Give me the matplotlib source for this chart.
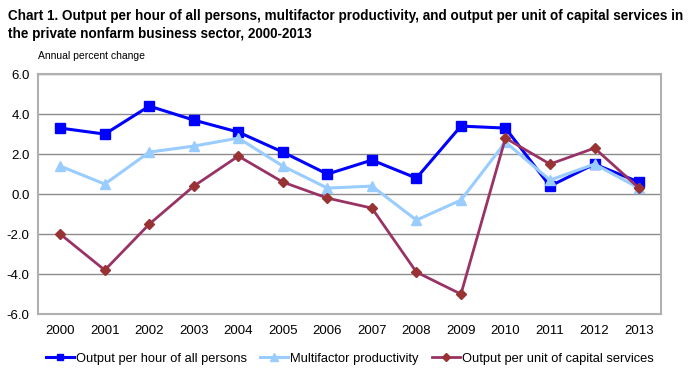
import numpy as np
from matplotlib import pyplot as plt

plt.rcParams['font.family'] = ['Liberation Sans', 'DejaVu Sans']

# dados
anos = ['2000', '2001', '2002', '2003', '2004', '2005', '2006',
        '2007', '2008', '2009', '2010', '2011', '2012', '2013']
prod_hora = [3.3, 3.0, 4.4, 3.7, 3.1, 2.1, 1.0, 1.7, 0.8, 3.4, 3.3, 0.4, 1.5, 0.6]
multifator = [1.4, 0.5, 2.1, 2.4, 2.8, 1.4, 0.3, 0.4, -1.3, -0.3, 2.6, 0.7, 1.5, 0.3]
capital = [-2.0, -3.8, -1.5, 0.4, 1.9, 0.6, -0.2, -0.7, -3.9, -5.0, 2.8, 1.5, 2.3, 0.3]

fig = plt.figure(figsize=(6.91, 3.78), dpi=100)
ax = fig.add_axes([0.055, 0.169, 0.902, 0.635])

x = np.arange(len(anos))
ax.plot(x, prod_hora, color='#0000ff', lw=2.2, marker='s', ms=6.5,
        label='Output per hour of all persons', zorder=3)
ax.plot(x, multifator, color='#99ccff', lw=2.2, marker='^', ms=7,
        label='Multifactor productivity', zorder=4)
ax.plot(x, capital, color='#993366', lw=2.0, marker='D', ms=5,
        mfc='#993333', mec='#993333', label='Output per unit of capital services', zorder=5)

ax.set_xlim(-0.5, 13.5)
ax.set_ylim(-6, 6)
ax.set_yticks(np.arange(-6, 6.1, 2))
ax.set_yticklabels(['%.1f' % v for v in np.arange(-6, 6.1, 2)])
ax.set_xticks(x)
ax.set_xticklabels(anos)
ax.tick_params(length=0, labelsize=9.5, colors='black')
ax.tick_params(axis='x', pad=8)
ax.tick_params(axis='y', pad=6)
ax.grid(axis='y', color='#8c8c8c', lw=1)
for s in ax.spines.values():
    s.set_color('#b0b0b0')
    s.set_linewidth(1.5)

fig.text(0.012, 0.975, 'Chart 1. Output per hour of all persons, multifactor productivity, and output per unit of capital services in\nthe private nonfarm business sector, 2000-2013',
         fontsize=9.75, fontweight='bold', va='top', ha='left', linespacing=1.3)
fig.text(0.055, 0.853, 'Annual percent change', fontsize=7.5, va='center', ha='left')

ax.legend(loc='center', bbox_to_anchor=(0.5, -0.185), ncol=3, frameon=False,
          fontsize=9.3, handlelength=2.2, columnspacing=1.0, handletextpad=0.15,
          markerscale=0.75)

plt.savefig('out.png', dpi=100)
